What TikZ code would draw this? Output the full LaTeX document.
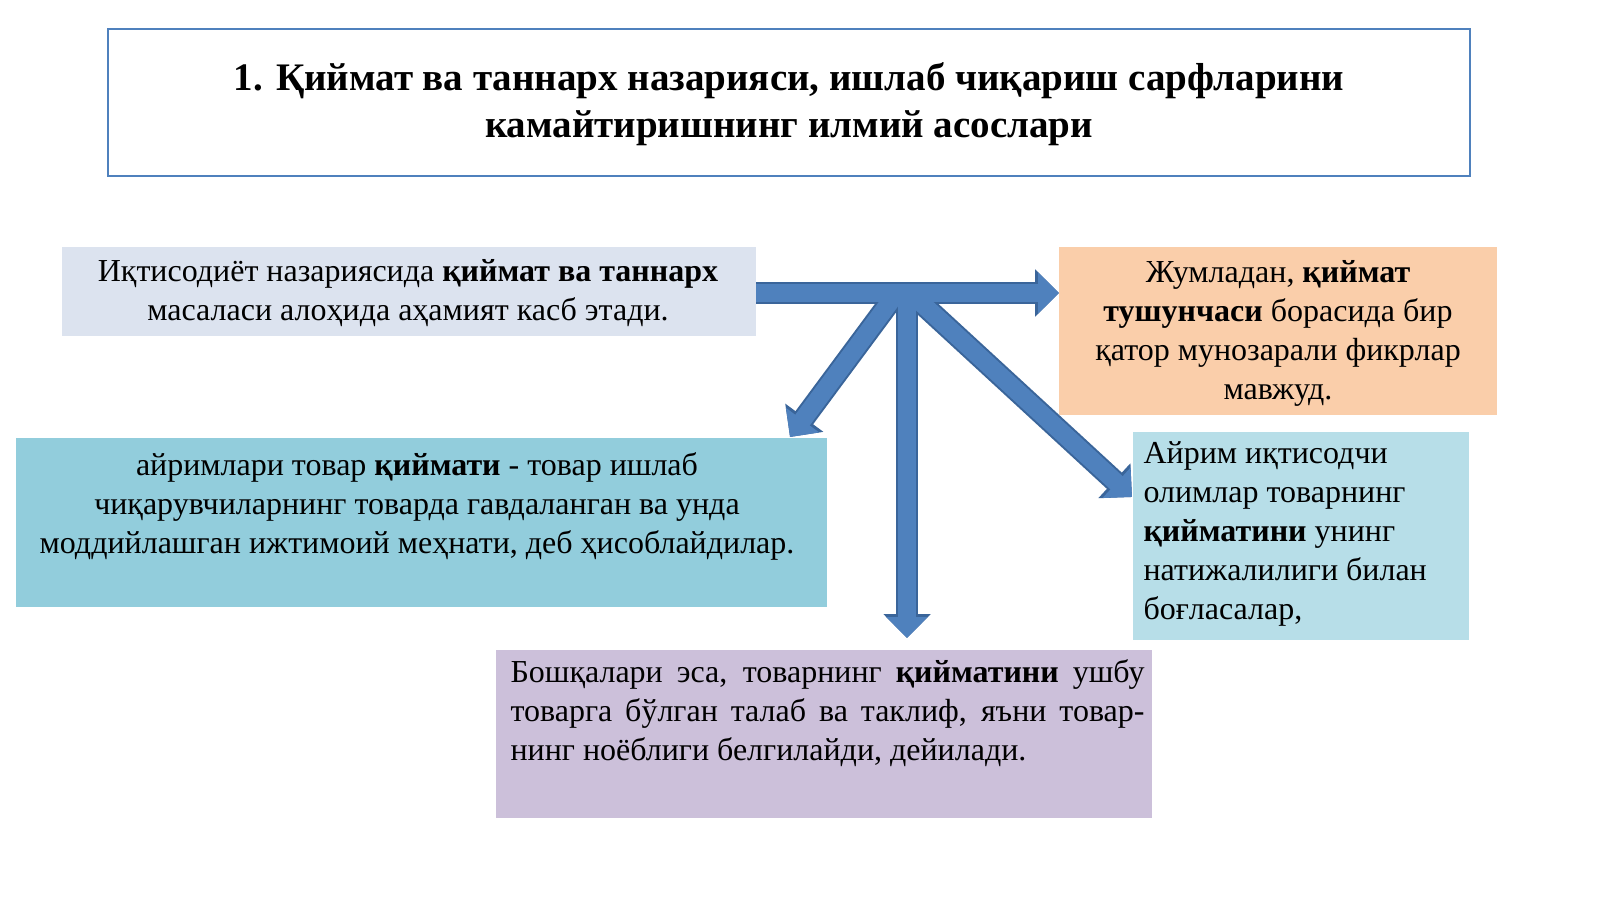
\documentclass[tikz,border=0pt]{standalone}
\usepackage{fontspec}
\setmainfont{Liberation Serif}
\usetikzlibrary{arrows.meta}
\definecolor{arw}{HTML}{4F81BD}
\definecolor{arwd}{HTML}{3A659A}
\begin{document}
\begin{tikzpicture}[x=1pt,y=-1pt,
  bx/.style={anchor=north west,inner sep=0pt,outer sep=0pt},
  txt/.style={font=\fontsize{32}{39}\selectfont},
  barw/.style={draw=arwd,line width=22pt,-{Triangle[width=46pt,length=24pt]}},
  barwi/.style={draw=arw,line width=18pt,-{Triangle[width=40pt,length=21pt]}}]
\fill[white] (0,0) rectangle (1600,899);
\node[bx,draw={rgb,255:red,79;green,129;blue,189},line width=2pt,minimum width=1362pt,minimum height=147pt] (title) at (108,29) {};
\node[font=\fontsize{39}{47}\selectfont\bfseries,align=center] (tt) at (789,104) {1. Қиймат ва таннарх назарияси, ишлаб чиқариш сарфларини\\камайтиришнинг илмий асослари};
\node[bx,fill={rgb,255:red,220;green,227;blue,239},minimum width=694pt,minimum height=89pt] (b1) at (62,247) {};
\node[txt,align=center] at (408,293) {Иқтисодиёт назариясида \textbf{қиймат ва таннарх}\\масаласи алоҳида аҳамият касб этади.};
\node[bx,fill={rgb,255:red,250;green,206;blue,170},minimum width=438pt,minimum height=168pt] (b2) at (1059,247) {};
\node[txt,align=center] at (1278,333) {Жумладан, \textbf{қиймат}\\\textbf{тушунчаси} борасида бир\\қатор мунозарали фикрлар\\мавжуд.};
\node[bx,fill={rgb,255:red,146;green,205;blue,220},minimum width=811pt,minimum height=169pt] (b3) at (16,438) {};
\node[txt,align=center] at (417,506) {айримлари товар \textbf{қиймати} - товар ишлаб\\чиқарувчиларнинг товарда гавдаланган ва унда\\моддийлашган ижтимоий меҳнати, деб ҳисоблайдилар.};
\node[bx,fill={rgb,255:red,183;green,222;blue,232},minimum width=336pt,minimum height=208pt] (b4) at (1133,432) {};
\node[txt,align=left,anchor=north west] at (1140,438) {Айрим иқтисодчи\\олимлар товарнинг\\\textbf{қийматини} унинг\\натижалилиги билан\\боғласалар,};
\node[bx,fill={rgb,255:red,204;green,192;blue,218},minimum width=656pt,minimum height=168pt] (b5) at (496,650) {};
\node[txt,anchor=north west,text width=634pt,align=justify] at (507,656) {Бошқалари эса, товарнинг \textbf{қийматини} ушбу\linebreak товарга бўлган талаб ва таклиф, яъни товар-\linebreak нинг ноёблиги белгилайди, дейилади.};
\coordinate (hub) at (907,293);
\coordinate (hl) at (893,298);
\coordinate (hr) at (918,300);
\foreach \s in {barw,barwi}{
\draw[\s] (b1.east |- hub) -- (b2.west |- hub);
\draw[\s] (hub) -- (907,638);
\draw[\s] (hl) -- (790,437);
\draw[\s] (hr) -- (1132,497);}
\pgfresetboundingbox
\path[use as bounding box] (0,0) rectangle (1600,899);
\end{tikzpicture}
\end{document}
